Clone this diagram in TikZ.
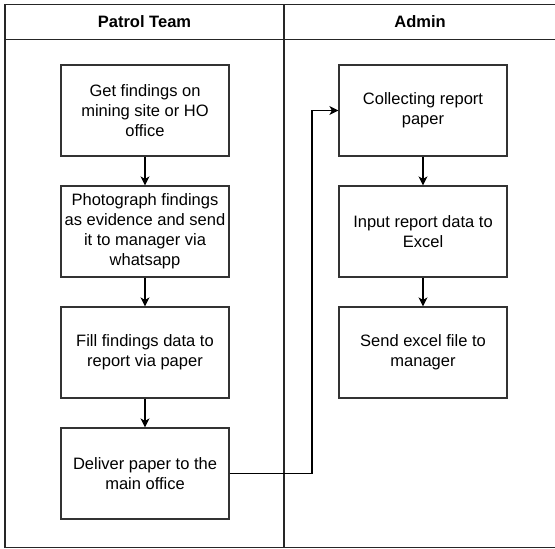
\documentclass[tikz,border=0pt]{standalone}
\usepackage{fontspec}
\setmainfont{Liberation Sans}
\usetikzlibrary{arrows.meta}
\begin{document}
\begin{tikzpicture}[x=1pt,y=-1pt,
  lane/.style={draw=black!85,line width=1.2pt},
  stepbox/.style={draw=black!80,line width=1.2pt,fill=white,rectangle,
    minimum width=168pt,minimum height=91pt,inner sep=0pt,
    align=center,font=\fontsize{16.5}{20}\selectfont},
  head/.style={font=\fontsize{16.5}{20}\selectfont\bfseries},
  flow/.style={draw=black,line width=1.2pt,-{Stealth[length=9pt,width=9pt,inset=2.5pt]}}]
\useasboundingbox (0,0) rectangle (555,549);
% pool frame
\draw[lane] (556,4.5) -- (5,4.5) -- (5,547.5) -- (556,547.5);
\draw[lane] (5,39.5) -- (556,39.5);
\draw[lane] (284,4.5) -- (284,547.5);
\node[head] (h1) at (144.5,22) {Patrol Team};
\node[head] (h2) at (420,22) {Admin};
% left lane
\node[stepbox] (b1) at (145,110.5) {Get findings on\\mining site or HO\\office};
\node[stepbox] (b2) at (145,231.5) {Photograph findings\\as evidence and send\\it to manager via\\whatsapp};
\node[stepbox] (b3) at (145,352.5) {Fill findings data to\\report via paper};
\node[stepbox] (b4) at (145,473.5) {Deliver paper to the\\main office};
% right lane
\node[stepbox] (b5) at (423,110.5) {Collecting report\\paper};
\node[stepbox] (b6) at (423,231.5) {Input report data to\\Excel};
\node[stepbox] (b7) at (423,352.5) {Send excel file to\\manager};
% connectors
\draw[flow] (b1) -- (b2);
\draw[flow] (b2) -- (b3);
\draw[flow] (b3) -- (b4);
\draw[flow] (b5) -- (b6);
\draw[flow] (b6) -- (b7);
\coordinate (k) at (312,473.5);
\draw[flow] (b4.east) -- (k) |- (b5.west);
\end{tikzpicture}
\end{document}
